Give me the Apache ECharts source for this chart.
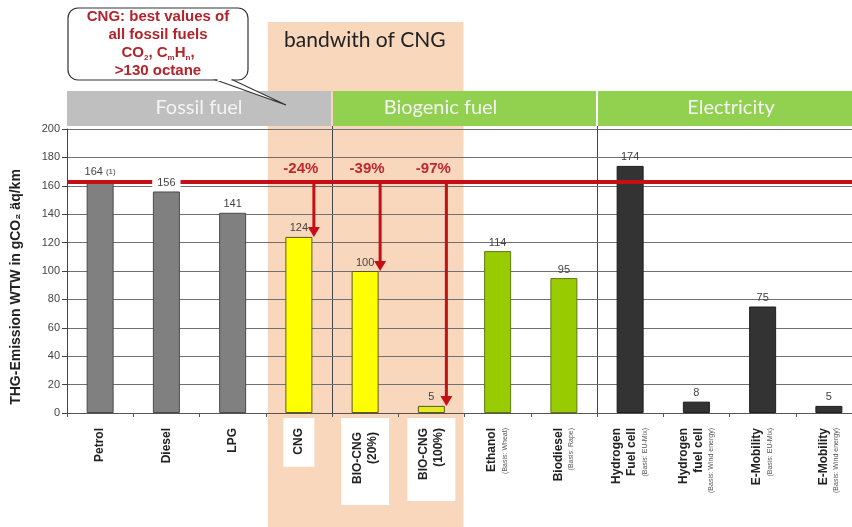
<!DOCTYPE html>
<html>
<head>
<meta charset="utf-8">
<script src="https://cdn.jsdelivr.net/npm/echarts@6/dist/echarts.min.js"></script>
<style>
  html, body { margin: 0; padding: 0; background: #fff; }
  #chart { width: 852px; height: 527px; }
</style>
</head>
<body>
<div id="chart"></div>
<script>
// Well-to-wheel greenhouse gas emissions per fuel, g CO2 eq/km
const fuels = ['Petrol', 'Diesel', 'LPG', 'CNG', 'BIO-CNG\n(20%)', 'BIO-CNG\n(100%)',
  'Ethanol', 'Biodiesel', 'Hydrogen\nFuel cell', 'Hydrogen\nfuel cell', 'E-Mobility', 'E-Mobility'];
const fuelBasis = ['', '', '', '', '', '', '(Basis: Wheat)', '(Basis: Rape)',
  '(Basis: EU-Mix)', '(Basis: Wind energy)', '(Basis: EU-Mix)', '(Basis: Wind energy)'];
const emissions = [164, 156, 141, 124, 100, 5, 114, 95, 174, 8, 75, 5];
const groupOf = ['fossil', 'fossil', 'fossil', 'cng', 'cng', 'bio100', 'bio', 'bio', 'elec', 'elec', 'elec', 'elec'];

// Reference level of the best fossil fuel and the reductions towards it
const referenceLevel = 163;
const reductionFrom = [3, 4, 5];            // category indices
const reductionLabels = ['-24%', '-39%', '-97%'];

// Header groups: title, first category, last category
const groupTitles = ['Fossil fuel', 'Biogenic fuel', 'Electricity'];
const groupStart = [0, 4, 8];
const groupEnd = [3, 7, 11];
const cngBand = [3, 5];

const yTicks = { min: 0, max: 200, step: 20 };
const yTitle = 'THG-Emission WTW in gCO\u2082 \u00e4q/km';

const categories = fuels.map((f, i) => f + (fuelBasis[i] ? '|' + fuelBasis[i] : '') + '#' + i);

const fills = { fossil: '#808080', cng: '#ffff00', bio100: '#e2ec1c', bio: '#99cc00', elec: '#333333' };
const borders = { fossil: '#4a4a4a', cng: '#5a5a20', bio100: '#5a5a20', bio: '#5d7a10', elec: '#1e1e1e' };

const chart = echarts.init(document.getElementById('chart'));

// white boxes behind the CNG labels (padding: across-left, toward axis, across-right, away from axis)
const whiteBoxed = { 3: [8, 10, 8, 12], 4: [9, 14, 9, 21], 5: [9, 10, 9, 21] };
const xData = categories.map((c, i) => {
  const item = { value: c };
  if (whiteBoxed[i]) {
    item.textStyle = { backgroundColor: '#ffffff', padding: whiteBoxed[i] };
  }
  return item;
});

function catBounds(api, idx) {
  const c = api.coord([idx, 0])[0];
  const w = api.size([1, 0])[0];
  return [c - w / 2, c + w / 2];
}

chart.setOption({
  animation: false,
  backgroundColor: '#ffffff',
  grid: { left: 67, top: 129, bottom: 114, width: 795, containLabel: false, outerBoundsMode: 'none' },
  xAxis: {
    type: 'category',
    data: xData,
    axisLine: { lineStyle: { color: '#555', width: 1 } },
    axisTick: { show: true, length: 4, lineStyle: { color: '#555' } },
    axisLabel: {
      rotate: 90,
      margin: 5,
      interval: 0,
      padding: [0, 10, 0, 0],
      formatter: (v, i) => {
        const main = fuels[i].split('\n').map(s => '{b|' + s + '}').join('\n');
        return fuelBasis[i] ? main + '\n{s|' + fuelBasis[i] + '}' : main;
      },
      rich: {
        b: { fontFamily: 'Liberation Sans', fontWeight: 'bold', fontSize: 12, color: '#222', lineHeight: 15 },
        s: { fontFamily: 'Liberation Sans', fontSize: 7, color: '#555', lineHeight: 11 }
      }
    },
    splitLine: { show: false }
  },
  yAxis: {
    type: 'value',
    min: yTicks.min, max: yTicks.max, interval: yTicks.step,
    axisLine: { show: true, lineStyle: { color: '#444' } },
    axisTick: { show: true, length: 5, inside: false, lineStyle: { color: '#444' } },
    axisLabel: { fontFamily: 'Liberation Sans', fontSize: 11, color: '#444', margin: 7 },
    splitLine: { lineStyle: { color: '#707070', width: 1 } }
  },
  series: [
    {
      // CNG band and group separators behind the grid lines
      type: 'custom',
      z: -1,
      silent: true,
      clip: false,
      data: [[0]],
      renderItem: (params, api) => {
        const cs = params.coordSys;
        const b0 = catBounds(api, cngBand[0]);
        const b1 = catBounds(api, cngBand[1]);
        const children = [{
          type: 'rect',
          shape: { x: b0[0] + 2, y: 22, width: b1[1] - b0[0] - 3, height: 527 - 22 },
          style: { fill: '#f8d7bd' }
        }];
        for (let k = 1; k < groupStart.length; k++) {
          const x = Math.round(catBounds(api, groupStart[k])[0]) + 0.5;
          children.push({
            type: 'line',
            shape: { x1: x, y1: cs.y - 3, x2: x, y2: cs.y + cs.height },
            style: { stroke: '#444', lineWidth: 1 }
          });
        }
        return { type: 'group', children };
      }
    },
    {
      type: 'bar',
      z: 2,
      barWidth: 27,
      data: emissions.map((v, i) => ({
        value: v,
        itemStyle: { color: fills[groupOf[i]], borderColor: borders[groupOf[i]], borderWidth: 1 }
      }))
    },
    {
      // Reference line and reduction arrows
      type: 'custom',
      z: 3,
      silent: true,
      clip: false,
      data: reductionFrom.map(i => [i, referenceLevel, emissions[i]]),
      renderItem: (params, api) => {
        const cat = api.value(0);
        const top = api.coord([cat, api.value(1)]);
        const bot = api.coord([cat, api.value(2)]);
        const x = top[0] + 15;
        const color = '#c40f17';
        return {
          type: 'group',
          children: [
            { type: 'line', shape: { x1: x, y1: top[1], x2: x, y2: bot[1] - 8 },
              style: { stroke: color, lineWidth: 3 } },
            { type: 'polygon', shape: { points: [[x - 6, bot[1] - 10], [x + 6, bot[1] - 10], [x, bot[1]]] },
              style: { fill: color } },
            { type: 'text', x: x - 13, y: top[1] - 13,
              style: { text: reductionLabels[params.dataIndex], fill: '#c0262c', font: 'bold 15px "Liberation Sans"',
                       align: 'center', verticalAlign: 'middle' } }
          ]
        };
      },
      markLine: {
        silent: true,
        symbol: 'none',
        label: { show: false },
        lineStyle: { color: '#c40f17', width: 4, type: 'solid' },
        data: [{ yAxis: referenceLevel }]
      }
    },
    {
      // Value labels drawn above the reference line
      type: 'bar',
      z: 6,
      barWidth: 27,
      barGap: '-100%',
      silent: true,
      itemStyle: { color: 'rgba(0,0,0,0)' },
      data: emissions.map((v, i) => ({
        value: v,
        label: i === 1 ? { backgroundColor: '#ffffff', padding: [0, 5, 0, 5] } : {}
      })),
      label: {
        show: true,
        position: 'top',
        distance: 3,
        fontFamily: 'Liberation Sans',
        fontSize: 11,
        color: '#444',
        formatter: p => p.dataIndex === 0 ? p.value + ' {s|(1)}' : String(p.value),
        rich: { s: { fontSize: 8, color: '#444', fontFamily: 'Liberation Sans' } }
      }
    },
    {
      // Group header bar
      type: 'custom',
      z: 8,
      silent: true,
      clip: false,
      data: [[0]],
      renderItem: (params, api) => {
        const children = [];
        const colors = ['#bfbfbf', '#92d050', '#92d050'];
        const textX = [0, -24, 6];
        for (let k = 0; k < groupTitles.length; k++) {
          const x0 = catBounds(api, groupStart[k])[0] + (k ? 1 : 0);
          const x1 = catBounds(api, groupEnd[k])[1] - 1;
          children.push({ type: 'rect', shape: { x: x0, y: 91, width: x1 - x0, height: 35 },
            style: { fill: colors[k] } });
          const x1v = Math.min(x1, 852);
          children.push({ type: 'text', x: (x0 + x1v) / 2 + textX[k], y: 108,
            style: { text: groupTitles[k], fill: '#f4f4f4', font: '20px Lato', align: 'center', verticalAlign: 'middle' } });
        }
        return { type: 'group', children };
      }
    }
  ],
  graphic: [
    {
      type: 'text', x: 16, y: 287, rotation: Math.PI / 2, z: 9,
      style: { text: yTitle, fill: '#222', font: 'bold 14px "Liberation Sans"', align: 'center', verticalAlign: 'middle' }
    },
    {
      type: 'text', left: 284, top: 30, z: 9,
      style: { text: 'bandwith of CNG', fill: '#222', font: '21px Lato' }
    },
    {
      type: 'rect', z: 20,
      shape: { x: 68, y: 8, width: 180, height: 72, r: 10 },
      style: { fill: '#ffffff', stroke: '#333333', lineWidth: 1.2 }
    },
    {
      type: 'polygon', z: 20,
      shape: { points: [[216, 80], [286, 105], [233, 80]] },
      style: { fill: '#ffffff', stroke: '#333333', lineWidth: 1.2 }
    },
    {
      type: 'line', z: 21,
      shape: { x1: 217.5, y1: 80, x2: 231.5, y2: 80 },
      style: { stroke: '#ffffff', lineWidth: 2 }
    },
    {
      type: 'text', x: 158, y: 8, z: 21,
      style: {
        text: '{t|CNG: best values of}\n{t|all fossil fuels}\n{t|CO}{s|2}{t|, C}{s|m}{t|H}{s|n}{t|,}\n{t|>130 octane}',
        align: 'center',
        rich: {
          t: { font: 'bold 15px "Liberation Sans"', fill: '#b3232a', lineHeight: 18 },
          s: { font: 'bold 8px "Liberation Sans"', fill: '#b3232a', lineHeight: 18, verticalAlign: 'bottom', padding: [6, 0, 0, 0] }
        }
      }
    }
  ]
});
</script>
</body>
</html>
